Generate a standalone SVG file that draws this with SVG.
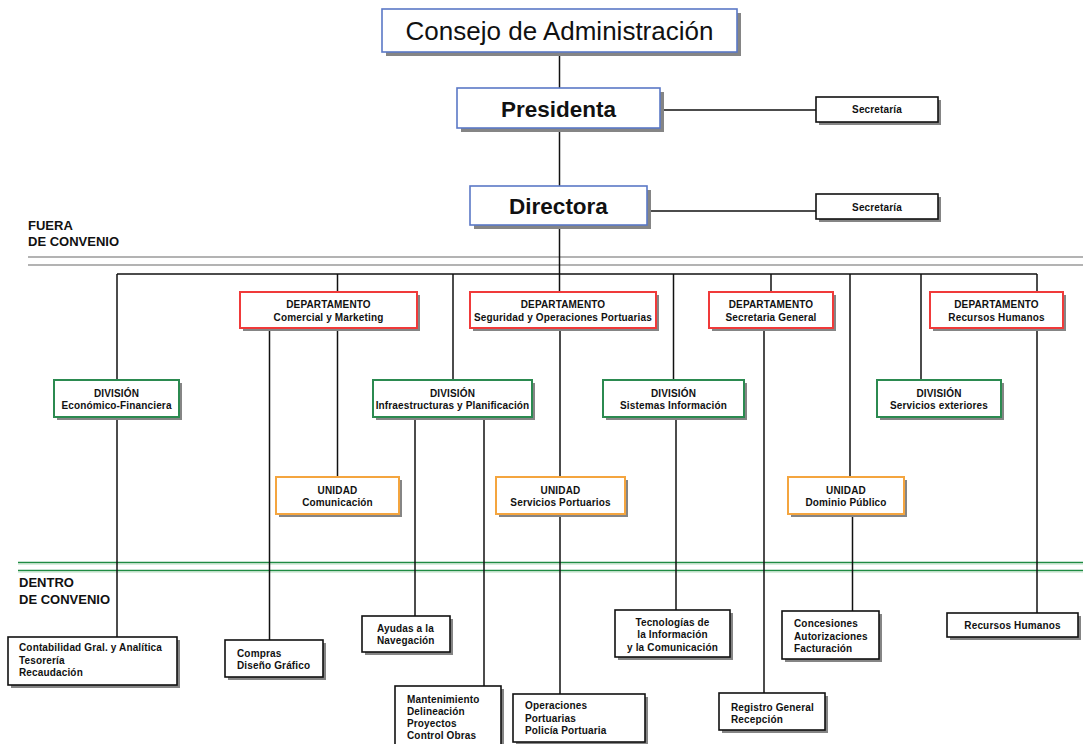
<svg xmlns="http://www.w3.org/2000/svg" width="1083" height="744" viewBox="0 0 1083 744">
<style>
text{font-family:"Liberation Sans",Arial,Helvetica,sans-serif;fill:#111;}
.s{font-size:10px;font-weight:bold;letter-spacing:0.15px;}
.c{text-anchor:middle;}
.sec{font-size:13px;font-weight:bold;}
.sh{fill:#858585;}
.box{fill:#fff;}
.blue{stroke:#5b78c6;stroke-width:1.6;}
.red{stroke:#f03a3a;stroke-width:2;}
.green{stroke:#2b8a50;stroke-width:2;}
.orange{stroke:#f4a53f;stroke-width:2;}
.black{stroke:#111;stroke-width:1.6;}
.ln{stroke:#111;stroke-width:1.5;fill:none;}
</style>
<rect width="1083" height="744" fill="#fff"/>
<g id="separators">
<line x1="28" y1="257" x2="1083" y2="257" stroke="#9a9a9a" stroke-width="1.5"/>
<line x1="28" y1="265" x2="1083" y2="265" stroke="#9a9a9a" stroke-width="1.5"/>
<line x1="18" y1="562.5" x2="1083" y2="562.5" stroke="#1f8b43" stroke-width="1.5"/>
<line x1="18" y1="564" x2="1083" y2="564" stroke="#b6dcbf" stroke-width="1"/>
<line x1="18" y1="570.5" x2="1083" y2="570.5" stroke="#1f8b43" stroke-width="1.5"/>
<line x1="18" y1="572" x2="1083" y2="572" stroke="#b6dcbf" stroke-width="1"/>
<text class="sec" x="28" y="230">FUERA</text>
<text class="sec" x="28" y="246">DE CONVENIO</text>
<text class="sec" x="19" y="587">DENTRO</text>
<text class="sec" x="19" y="604">DE CONVENIO</text>
</g>
<g id="connectors" class="ln">
<line x1="559.5" y1="52" x2="559.5" y2="88"/>
<line x1="660" y1="110" x2="816" y2="110"/>
<line x1="559.5" y1="128" x2="559.5" y2="186"/>
<line x1="647" y1="211" x2="816" y2="211"/>
<line x1="559.5" y1="225" x2="559.5" y2="292"/>
<line x1="117" y1="274" x2="1037" y2="274"/>
<line x1="117" y1="274" x2="117" y2="637"/>
<line x1="337.5" y1="274" x2="337.5" y2="477"/>
<line x1="269.5" y1="328" x2="269.5" y2="640"/>
<line x1="453" y1="274" x2="453" y2="380"/>
<line x1="415" y1="417" x2="415" y2="616"/>
<line x1="484" y1="417" x2="484" y2="686"/>
<line x1="560" y1="328" x2="560" y2="694"/>
<line x1="673.5" y1="274" x2="673.5" y2="380"/>
<line x1="676" y1="417" x2="676" y2="610"/>
<line x1="771" y1="274" x2="771" y2="292"/>
<line x1="764" y1="328" x2="764" y2="693"/>
<line x1="850" y1="274" x2="850" y2="477"/>
<line x1="852.5" y1="514" x2="852.5" y2="611"/>
<line x1="921" y1="274" x2="921" y2="380"/>
<line x1="1037" y1="274" x2="1037" y2="613"/>
</g>
<g id="consejo">
<rect class="sh" x="386" y="13" width="355" height="43"/>
<rect class="box blue" x="382" y="9" width="355" height="43"/>
<text class="c" x="559.5" y="40" font-size="26">Consejo de Administración</text>
</g>
<g id="presidenta">
<rect class="sh" x="461" y="92" width="203" height="40"/>
<rect class="box blue" x="457" y="88" width="203" height="40"/>
<text class="c" x="558.5" y="117" font-size="22.5" font-weight="bold">Presidenta</text>
</g>
<g id="secretaria1">
<rect class="sh" x="819" y="100" width="122" height="25"/>
<rect class="box black" x="816" y="97" width="122" height="25"/>
<text class="s c" x="877" y="113">Secretaría</text>
</g>
<g id="directora">
<rect class="sh" x="474" y="190" width="177" height="39"/>
<rect class="box blue" x="470" y="186" width="177" height="39"/>
<text class="c" x="558.5" y="214" font-size="22.5" font-weight="bold">Directora</text>
</g>
<g id="secretaria2">
<rect class="sh" x="819" y="197" width="122" height="25"/>
<rect class="box black" x="816" y="194" width="122" height="25"/>
<text class="s c" x="877" y="210.5">Secretaría</text>
</g>
<g id="dep-comercial">
<rect class="sh" x="243" y="295" width="177" height="36"/>
<rect class="box red" x="240" y="292" width="177" height="36"/>
<text class="s c" x="328.5" y="307.5">DEPARTAMENTO</text>
<text class="s c" x="328.5" y="321">Comercial y Marketing</text>
</g>
<g id="dep-seguridad">
<rect class="sh" x="473" y="295" width="186" height="36"/>
<rect class="box red" x="470" y="292" width="186" height="36"/>
<text class="s c" x="563" y="307.5">DEPARTAMENTO</text>
<text class="s c" x="563" y="321">Seguridad y Operaciones Portuarias</text>
</g>
<g id="dep-secretaria">
<rect class="sh" x="712" y="295" width="124" height="36"/>
<rect class="box red" x="709" y="292" width="124" height="36"/>
<text class="s c" x="771" y="307.5">DEPARTAMENTO</text>
<text class="s c" x="771" y="321">Secretaria General</text>
</g>
<g id="dep-rrhh">
<rect class="sh" x="933" y="295" width="133" height="36"/>
<rect class="box red" x="930" y="292" width="133" height="36"/>
<text class="s c" x="996.5" y="307.5">DEPARTAMENTO</text>
<text class="s c" x="996.5" y="321">Recursos Humanos</text>
</g>
<g id="div-economico">
<rect class="sh" x="57" y="383" width="125" height="37"/>
<rect class="box green" x="54" y="380" width="125" height="37"/>
<text class="s c" x="116.5" y="396.5">DIVISIÓN</text>
<text class="s c" x="116.5" y="409">Económico-Financiera</text>
</g>
<g id="div-infra">
<rect class="sh" x="376" y="383" width="159" height="37"/>
<rect class="box green" x="373" y="380" width="159" height="37"/>
<text class="s c" x="452.5" y="396.5">DIVISIÓN</text>
<text class="s c" x="452.5" y="409">Infraestructuras y Planificación</text>
</g>
<g id="div-sistemas">
<rect class="sh" x="606" y="383" width="141" height="37"/>
<rect class="box green" x="603" y="380" width="141" height="37"/>
<text class="s c" x="673.5" y="396.5">DIVISIÓN</text>
<text class="s c" x="673.5" y="409">Sistemas Información</text>
</g>
<g id="div-servicios">
<rect class="sh" x="880" y="383" width="124" height="37"/>
<rect class="box green" x="877" y="380" width="124" height="37"/>
<text class="s c" x="939" y="396.5">DIVISIÓN</text>
<text class="s c" x="939" y="409">Servicios exteriores</text>
</g>
<g id="uni-comunicacion">
<rect class="sh" x="279" y="480" width="123" height="37"/>
<rect class="box orange" x="276" y="477" width="123" height="37"/>
<text class="s c" x="337.5" y="493.5">UNIDAD</text>
<text class="s c" x="337.5" y="506">Comunicación</text>
</g>
<g id="uni-servicios">
<rect class="sh" x="499" y="480" width="129" height="37"/>
<rect class="box orange" x="496" y="477" width="129" height="37"/>
<text class="s c" x="560.5" y="493.5">UNIDAD</text>
<text class="s c" x="560.5" y="506">Servicios Portuarios</text>
</g>
<g id="uni-dominio">
<rect class="sh" x="791" y="480" width="116" height="37"/>
<rect class="box orange" x="788" y="477" width="116" height="37"/>
<text class="s c" x="846" y="493.5">UNIDAD</text>
<text class="s c" x="846" y="506">Dominio Público</text>
</g>
<g id="contabilidad">
<rect class="sh" x="11" y="640" width="169" height="48"/>
<rect class="box black" x="8" y="637" width="169" height="48"/>
<text class="s" x="19" y="651">Contabilidad Gral. y Analítica</text>
<text class="s" x="19" y="663.5">Tesorería</text>
<text class="s" x="19" y="676">Recaudación</text>
</g>
<g id="compras">
<rect class="sh" x="228" y="643" width="98" height="37"/>
<rect class="box black" x="225" y="640" width="98" height="37"/>
<text class="s" x="237" y="656.5">Compras</text>
<text class="s" x="237" y="668.5">Diseño Gráfico</text>
</g>
<g id="ayudas">
<rect class="sh" x="365" y="619" width="88" height="36"/>
<rect class="box black" x="362" y="616" width="88" height="36"/>
<text class="s" x="377" y="631.5">Ayudas a la</text>
<text class="s" x="377" y="643.5">Navegación</text>
</g>
<g id="mantenimiento">
<rect class="sh" x="398" y="689" width="106" height="62"/>
<rect class="box black" x="395" y="686" width="106" height="62"/>
<text class="s" x="407" y="702.5">Mantenimiento</text>
<text class="s" x="407" y="714.5">Delineación</text>
<text class="s" x="407" y="726.5">Proyectos</text>
<text class="s" x="407" y="738.5">Control Obras</text>
</g>
<g id="operaciones">
<rect class="sh" x="516" y="697" width="132" height="48"/>
<rect class="box black" x="513" y="694" width="132" height="48"/>
<text class="s" x="525" y="709">Operaciones</text>
<text class="s" x="525" y="721.5">Portuarias</text>
<text class="s" x="525" y="734">Policía Portuaria</text>
</g>
<g id="tecnologias">
<rect class="sh" x="618" y="613" width="115" height="47"/>
<rect class="box black" x="615" y="610" width="115" height="47"/>
<text class="s c" x="672.5" y="625.5">Tecnologías de</text>
<text class="s c" x="672.5" y="638">la Información</text>
<text class="s c" x="672.5" y="650.5">y la Comunicación</text>
</g>
<g id="registro">
<rect class="sh" x="722" y="696" width="106" height="37"/>
<rect class="box black" x="719" y="693" width="106" height="37"/>
<text class="s" x="731" y="711">Registro General</text>
<text class="s" x="731" y="723">Recepción</text>
</g>
<g id="concesiones">
<rect class="sh" x="785" y="614" width="97" height="48"/>
<rect class="box black" x="782" y="611" width="97" height="48"/>
<text class="s" x="794" y="627">Concesiones</text>
<text class="s" x="794" y="639.5">Autorizaciones</text>
<text class="s" x="794" y="651.5">Facturación</text>
</g>
<g id="recursos">
<rect class="sh" x="950" y="616" width="131" height="24"/>
<rect class="box black" x="947" y="613" width="131" height="24"/>
<text class="s c" x="1012.5" y="629">Recursos Humanos</text>
</g>
</svg>
